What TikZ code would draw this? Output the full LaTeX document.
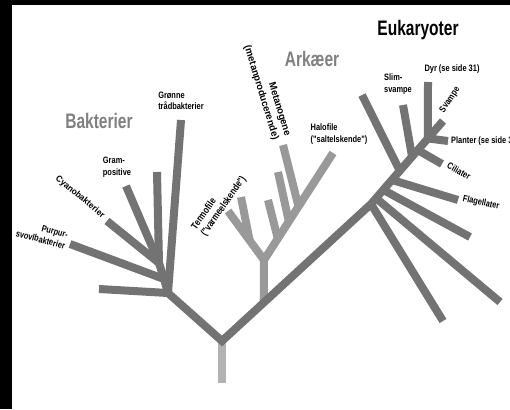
\documentclass[tikz,border=0pt]{standalone}
\usepackage{fontspec}
\usepackage{tikz}
\newfontfamily\condfont[FakeStretch=0.8,Ligatures=NoCommon]{Liberation Sans}
\newfontfamily\widefont[FakeStretch=0.95,Ligatures=NoCommon]{Liberation Sans}
\newfontfamily\headfont[FakeStretch=0.74]{Liberation Sans}
\colorlet{colorBAK}{black!55}
\colorlet{colorARK}{black!40}
\colorlet{colorEUK}{black!55}
\colorlet{colorROOT}{black!30}
\colorlet{colorHEAD}{black!50}
\usetikzlibrary{calc}
\tikzset{
   branch/.style={line width=8pt,line cap=butt,line join=miter},
   bak/.style={branch,color=colorBAK},
   ark/.style={branch,color=colorARK},
   euk/.style={branch,color=colorEUK},
   stem/.style={branch,color=colorROOT},
   lbl/.style={font=\condfont\bfseries\fontsize{9.3}{11.5}\selectfont,inner sep=0pt,align=left},
   lblt/.style={font=\condfont\bfseries\fontsize{10}{11.5}\selectfont,inner sep=0pt,align=left},
   lblw/.style={font=\widefont\bfseries\fontsize{8.8}{11.5}\selectfont,inner sep=0pt,align=left},
   lblm/.style={font=\widefont\bfseries\fontsize{10}{12.5}\selectfont,inner sep=0pt},
   head/.style={font=\headfont\bfseries\fontsize{21}{23}\selectfont,inner sep=0pt},
}

\begin{document}
\begin{tikzpicture}[x=1pt,y=-1pt]

        \useasboundingbox (0,0) rectangle (510,409);
        \clip (0,0) rectangle (510,409);
        \fill[black] (0,0) rectangle (12,409);
        \fill[black] (0,0) rectangle (510,5);

        % root and trunk
        \coordinate (r0) at (222,383);
        \coordinate (r)  at (222,341);
        \coordinate (e)  at (371,204);
        \coordinate (b)  at (168,293);

        % archaea
        \coordinate (a0)  at ($(r)!0.28!(e)$);
        \coordinate (a)   at (264,260);
        \coordinate (at)  at (228,211);
        \coordinate (al)  at ($(a)!0.4!(at)$);
        \coordinate (alt) at (241,197);
        \coordinate (ah)  at (333,153);
        \coordinate (as1) at ($(a)!0.2!(ah)$);
        \coordinate (as2) at ($(a)!0.36!(ah)$);
        \coordinate (as3) at ($(a)!0.5!(ah)$);

        \draw[ark] (a0) -- (a) -- (ah);
        \draw[ark] (a) -- (at);
        \draw[ark] (al) -- (alt);
        \draw[ark] (as1) -- (268,200);
        \draw[ark] (as2) -- (278,172);
        \draw[ark] (as3) -- (283,145);

        \draw[stem] (r0) -- (r);
        \draw[bak] (b) -- (r) -- (e);

        % bacteria
        \coordinate (bc) at (164,279);
        \coordinate (bg) at (159,263);
        \coordinate (b1) at (99,289);
        \coordinate (b2) at (70,244);
        \coordinate (b3) at (107,221);
        \coordinate (b4) at (126,186);
        \coordinate (b5) at (157,172);
        \coordinate (b6) at (181,120);

        \draw[bak] (b) -- (b1);
        \draw[bak] (b) -- (b6);
        \draw[bak] (b) -- (bc) -- (b2);
        \draw[bak] (bc) -- (bg) -- (b3);
        \draw[bak] (bg) -- (b4);
        \draw[bak] (bg) -- (b5);

        % eukaryotes
        \coordinate (et) at (443,121);
        \coordinate (u1) at (443,321);
        \coordinate (u2) at (500,302);
        \coordinate (u3) at (470,237);
        \coordinate (uf) at (458,200);
        \coordinate (ul) at (362,95);
        \coordinate (us) at (403,105);
        \coordinate (uc) at (442,164);
        \coordinate (ud) at (428,82);
        \coordinate (up) at (448,141);

        \draw[euk] (e) -- (et);
        \draw[euk] (e) -- (u1);
        \draw[euk] ($(e)!0.07!(et)$) -- (u2);
        \draw[euk] ($(e)!0.17!(et)$) -- (u3);
        \draw[euk] ($(e)!0.29!(et)$) -- (uf);
        \draw[euk] ($(e)!0.40!(et)$) -- (ul);
        \draw[euk] ($(e)!0.57!(et)$) -- (us);
        \draw[euk] ($(e)!0.65!(et)$) -- (uc);
        \draw[euk] ($(e)!0.79!(et)$) -- (ud);
        \draw[euk] ($(e)!0.79!(et)$) -- (up);

        % labels
        \node[head,text=colorHEAD] (hbak) at (99,121) {Bakterier};
        \node[head,text=colorHEAD] (hark) at (312,59) {Arkæer};
        \node[head] (heuk) at (418,30) {Eukaryoter};

        \node[lbl] (lgr) at (181,101) {Grønne\\trådbakterier};
        \node[lbl] (lgp) at (117,167) {Gram-\\positive};
        \node[lblw,rotate=-40] (lcy) at (80,197) {Cyanobakterier};
        \node[lbl,rotate=-15,align=right] (lpu) at (42,234) {Purpur-\\svovlbakterier};
        \node[lblt,rotate=55] (lte) at (219,203) {Termofile\\("varmeelskende")};
        \node[lblm,rotate=-73,align=right] (lme) at (267,91) {Metanogene\\(metanproducerende)};
        \node[lbl] (lha) at (339,134) {Halofile\\("saltelskende")};
        \node[lbl] (lsl) at (398,84) {Slim-\\svampe};
        \node[lbl] (ldy) at (452,69) {Dyr (se side 31)};
        \node[lbl,rotate=56] (lsv) at (450,100) {Svampe};
        \node[lbl,anchor=west] (lpl) at (451,141) {Planter (se side 31)};
        \node[lbl,rotate=-30] (lci) at (459,171) {Ciliater};
        \node[lbl,rotate=-12] (lfl) at (481,203) {Flagellater};

\end{tikzpicture}
\end{document}
